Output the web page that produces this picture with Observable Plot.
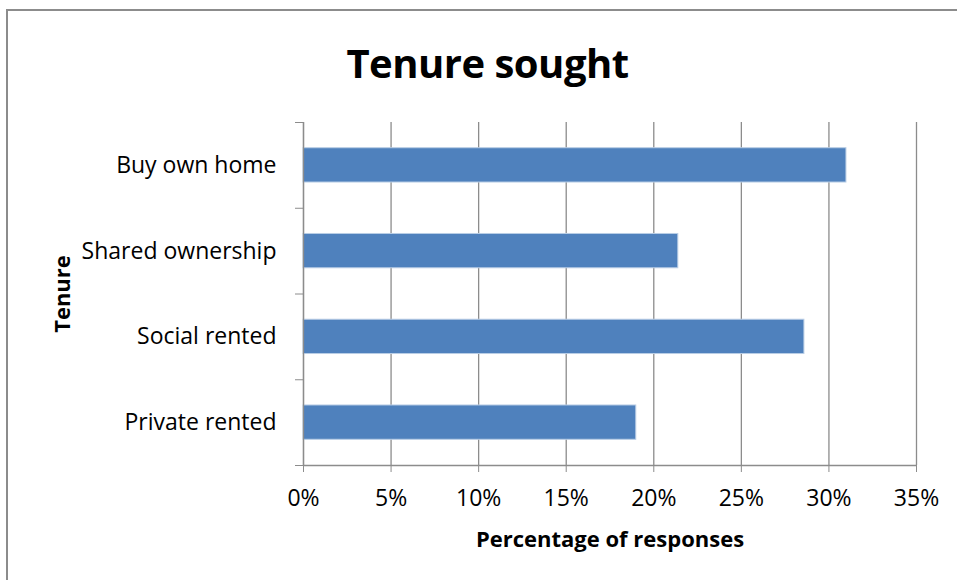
<!DOCTYPE html>
<html>
<head>
<meta charset="utf-8">
<script src="https://cdn.jsdelivr.net/npm/d3@7"></script>
<script src="https://cdn.jsdelivr.net/npm/@observablehq/plot@0.6"></script>
<style>
  html, body { margin: 0; padding: 0; background: #fff; }
  #wrap { position: relative; width: 957px; height: 580px; overflow: hidden; font-family: "Open Sans", sans-serif; }
  #border { position: absolute; left: 6px; top: 9px; width: 960px; height: 600px; border-left: 2px solid #8c8c8c; border-top: 2px solid #8c8c8c; }
  #title { position: absolute; left: 0; width: 975px; top: 35px; text-align: center; font-size: 40px; font-weight: bold; color: #000; letter-spacing: -0.5px; }
  #chart { position: absolute; left: 0; top: 0; }
</style>
</head>
<body>
<div id="wrap">
  <div id="border"></div>
  <div id="title">Tenure sought</div>
  <div id="chart"></div>
</div>
<script>
const categories = ["Buy own home", "Shared ownership", "Social rented", "Private rented"];
const values = [0.310, 0.214, 0.286, 0.190];
const xTicks = [0, 0.05, 0.10, 0.15, 0.20, 0.25, 0.30, 0.35];
const xTitle = "Percentage of responses";
const yTitle = "Tenure";

const data = categories.map((c, i) => ({category: c, index: i, value: values[i]}));
const barPad = 0.3;

const plot = Plot.plot({
  width: 957,
  height: 580,
  marginLeft: 303,
  marginRight: 41,
  marginTop: 122,
  marginBottom: 115,
  style: {fontFamily: "Open Sans, sans-serif", color: "#000", background: "transparent"},
  x: {domain: [0, 0.35]},
  y: {domain: [0, categories.length], reverse: true},
  marks: [
    Plot.gridX(xTicks, {stroke: "#8c8c8c", strokeOpacity: 1, strokeWidth: 1.3}),
    Plot.rectX(data, {
      x1: 0, x2: "value",
      y1: d => d.index + barPad, y2: d => d.index + 1 - barPad,
      fill: "#4f81bd", stroke: "#b9cde5", strokeWidth: 1
    }),
    Plot.ruleX([0], {stroke: "#8c8c8c", strokeWidth: 1.3}),
    Plot.ruleY([categories.length], {stroke: "#8c8c8c", strokeWidth: 1.3}),
    Plot.axisX({
      ticks: xTicks, tickFormat: d3.format(".0%"), tickSize: 7, tickPadding: 17,
      stroke: "#8c8c8c", fontSize: 23, label: null
    }),
    Plot.text([xTitle], {
      frameAnchor: "bottom", dy: 81, fontWeight: "bold", fontSize: 22, fill: "#000", textAnchor: "middle"
    }),
    Plot.axisY({
      ticks: d3.range(categories.length + 1), tickFormat: () => "", tickSize: 8,
      stroke: "#8c8c8c", label: null
    }),
    Plot.axisY({
      ticks: categories.map((c, i) => i + 0.5), tickFormat: d => categories[Math.floor(d)],
      tickSize: 0, tickPadding: 27, fontSize: 23, label: null
    }),
    Plot.text([yTitle], {
      frameAnchor: "left", dx: -241, rotate: -90, fontWeight: "bold", fontSize: 22, fill: "#000", textAnchor: "middle"
    })
  ]
});
document.getElementById("chart").appendChild(plot);
</script>
</body>
</html>
